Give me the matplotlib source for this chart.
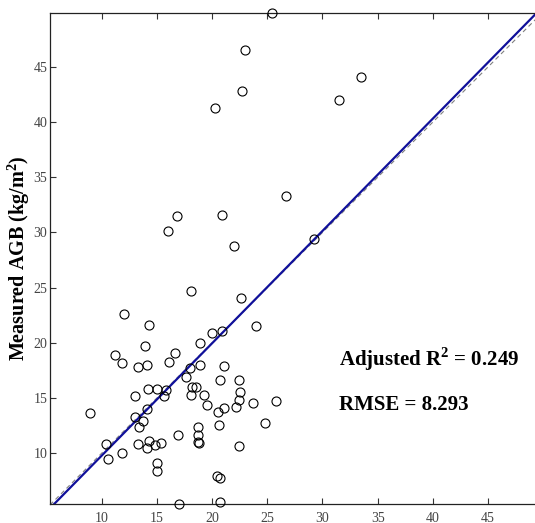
import matplotlib
matplotlib.use("Agg")
import matplotlib.pyplot as plt
import numpy as np

# predicted vs measured AGB (kg/m^2)
predicted = [8.9, 10.4, 10.6, 11.2, 11.8, 12.0, 11.8, 13.0, 13.0, 13.3, 13.3, 13.4,
             13.7, 13.9, 14.05, 14.1, 14.2, 14.3, 14.3, 14.1, 14.8, 15.0, 15.0, 15.0,
             15.4, 15.6, 15.8, 16.1, 16.6, 16.9, 17.0, 17.6, 18.0, 18.1, 18.1, 18.2,
             18.5, 18.7, 18.7, 18.75, 18.8, 18.9, 18.9, 19.3, 19.55, 20.0, 20.45, 20.75,
             20.5, 20.6, 20.7, 20.75, 20.85, 21.1, 21.1, 22.2, 22.4, 22.45, 22.5, 22.45,
             22.6, 23.7, 24.0, 24.8, 25.75, 23.0, 22.7, 20.3, 16.8, 16.0, 20.9, 22.0,
             25.45, 33.5, 31.5, 26.7, 29.2]
measured = [13.6, 10.8, 9.5, 18.9, 18.2, 22.6, 10.0, 15.2, 13.3, 17.8, 10.8, 12.4,
            12.9, 19.7, 14.0, 18.0, 15.8, 21.6, 11.1, 10.5, 10.7, 15.8, 9.1, 8.4,
            10.9, 15.2, 15.7, 18.3, 19.1, 11.6, 5.35, 16.9, 17.7, 24.7, 15.3, 16.0,
            16.0, 12.4, 11.6, 11.0, 10.9, 20.0, 18.0, 15.3, 14.4, 20.9, 7.9, 7.7,
            13.7, 12.5, 5.6, 16.6, 21.1, 14.1, 17.9, 14.2, 14.8, 16.6, 15.5, 10.6,
            24.1, 14.5, 21.5, 12.7, 14.7, 46.5, 42.8, 41.3, 31.5, 30.1, 31.6, 28.8,
            49.9, 44.1, 42.0, 33.3, 29.4]

fit_intercept = -0.4
fit_slope = 1.018
adj_r2 = 0.249
rmse = 8.293

xticks = [10, 15, 20, 25, 30, 35, 40, 45]
yticks = [10, 15, 20, 25, 30, 35, 40, 45]
xlim = (5.3, 49.9)
ylim = (5.38, 49.9)

plt.rcParams["mathtext.fontset"] = "custom"
plt.rcParams["mathtext.rm"] = "Liberation Serif:bold"
plt.rcParams["mathtext.bf"] = "Liberation Serif:bold"

fig = plt.figure(figsize=(5.35, 5.23), dpi=100)
ax = fig.add_axes([50 / 535, 19 / 523, 492 / 535, 491 / 523])

serif = ["Liberation Serif", "DejaVu Serif"]

# 1:1 reference line and regression line
ax.plot(xlim, xlim, linestyle=(0, (4, 3)), color="#808080", linewidth=0.8, zorder=1)
xs = np.array([xlim[0], xlim[1]])
ax.plot(xs, fit_intercept + fit_slope * xs, color="#10109a", linewidth=1.6, zorder=2)

ax.plot(predicted, measured, linestyle="none", marker="o", markersize=6.5,
        markerfacecolor="none", markeredgecolor="black", markeredgewidth=0.8,
        clip_on=False, zorder=3)

ax.set_xlim(*xlim)
ax.set_ylim(*ylim)
ax.set_xticks(xticks)
ax.set_yticks(yticks)
ax.tick_params(direction="in", length=4, width=0.8, top=True, right=True,
               colors="#333333", labelsize=10)
ax.tick_params(axis="x", pad=6)
ax.tick_params(axis="y", pad=2)
for lab in ax.get_xticklabels() + ax.get_yticklabels():
    lab.set_family(serif)
    lab.set_color("#444444")
for sp in ax.spines.values():
    sp.set_color("#222222")
    sp.set_linewidth(0.9)

ax.set_ylabel("Measured AGB (kg/m$^{2}$)", fontsize=14.5, fontweight="bold",
              family=serif)
ax.yaxis.set_label_coords(-0.037, 0.5)

ax.text(31.5, 17.9, "Adjusted R$^{2}$ = %.3f" % adj_r2, fontsize=15,
        fontweight="bold", family=serif)
ax.text(31.5, 13.9, "RMSE = %.3f" % rmse, fontsize=15, fontweight="bold",
        family=serif)

fig.savefig("out.png", dpi=100)
